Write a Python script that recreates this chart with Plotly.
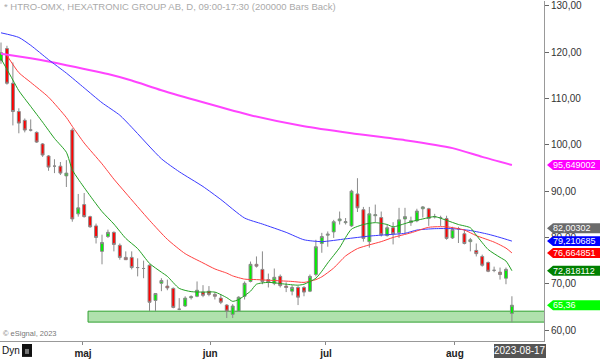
import plotly.graph_objects as go

# ---------------- data ----------------
opens = [118.2,120.8,113.3,107.2,105.3,103.2,102.7,100.2,97.6,95.4,95.4,93.3,103.2,85.1,87.1,84.5,82.5,77.0,80.2,81.1,
         78.3,75.7,75.7,73.5,73.3,74.0,66.4,70.1,69.5,69.0,64.5,65.2,67.0,67.3,68.2,68.4,67.7,66.9,65.4,63.4,
         64.1,67.3,70.5,74.2,73.1,70.9,70.1,71.6,69.5,68.4,69.2,69.2,68.4,72.0,78.7,80.5,81.2,83.6,83.2,82.5,
         89.4,86.0,79.1,84.7,84.3,80.4,82.1,81.0,84.0,83.2,83.6,86.2,86.2,84.5,84.3,84.1,79.9,81.9,80.8,79.1,
         77.2,75.9,74.6,72.9,72.5,71.2,63.6]
closes = [119.9,113.3,107.2,104.7,103.2,103.2,100.6,97.8,95.2,95.4,93.9,93.9,84.0,86.4,84.5,82.3,80.0,78.9,81.1,78.5,
          75.7,75.2,73.5,73.5,73.3,66.0,67.9,70.7,69.1,64.9,64.5,66.9,67.2,68.6,67.5,67.7,67.3,66.0,64.1,65.2,
          67.1,70.1,74.2,73.8,70.5,70.3,71.4,69.6,69.2,69.2,67.1,68.2,71.6,78.0,80.2,80.7,83.4,84.0,83.4,90.0,
          86.4,79.8,85.1,84.9,80.6,82.1,80.8,83.8,84.5,83.6,85.7,86.6,84.1,84.5,84.3,79.8,81.7,81.9,78.7,79.5,
          76.5,74.0,72.7,72.9,72.0,73.1,65.36]
highs = [122.1,121.4,117.8,107.9,105.7,105.5,102.9,100.4,97.8,96.9,96.3,96.7,103.6,89.4,89.6,84.7,83.0,80.6,81.7,81.3,
         78.7,77.0,77.0,75.5,75.0,74.2,67.9,71.2,70.9,69.2,66.9,67.3,67.5,70.5,69.7,69.5,68.2,67.7,65.6,65.6,
         67.3,70.5,74.8,75.9,77.0,72.2,73.3,72.0,70.3,69.7,69.5,69.5,72.0,79.5,81.0,81.3,83.8,85.6,84.2,90.3,
         92.8,86.6,86.6,87.1,85.6,82.8,83.3,86.4,86.4,84.5,86.2,86.8,86.4,85.1,84.7,84.7,82.3,82.3,81.7,79.9,
         78.7,76.3,74.8,73.7,73.5,73.5,67.3]
lows = [117.5,113.0,104.2,102.5,102.7,102.9,100.4,97.4,94.4,93.9,93.5,90.9,83.4,84.5,84.3,82.1,78.7,74.2,79.9,77.0,
        75.2,75.2,73.1,71.6,71.2,64.1,64.1,68.4,68.6,64.7,64.3,65.0,66.6,67.1,67.1,67.3,66.6,65.6,62.6,62.6,
        63.9,66.6,70.3,73.5,69.9,69.2,69.7,69.2,68.2,67.5,65.4,67.3,68.2,71.6,76.7,78.0,79.9,82.8,82.8,82.3,
        85.5,79.1,77.8,83.3,80.2,80.2,78.5,79.9,80.8,82.5,83.3,84.3,82.5,84.1,82.5,79.5,79.7,78.8,78.5,77.0,
        75.9,73.7,72.5,72.5,70.9,69.9,61.7]
bar_index = list(range(len(opens)))

# moving averages (bar index, value)
ma_green_idx = [0,2,3,5,7,9,11,12,13,15,17,19,21,23,25,27,28,30,32,34,36,38,39,40,42,43,45,48,50,51,53,54,55,57,58,59,
                61,63,65,66,68,69,71,73,75,77,79,80,82,84,85,86]
ma_green_val = [118.6,114.0,111.7,108.3,104.9,101.4,98.4,94.6,92.6,89.0,85.6,82.9,79.8,77.6,74.4,72.5,71.6,69.0,68.3,68.2,
                68.2,67.0,66.2,66.6,68.4,69.9,70.3,69.9,69.7,69.9,71.2,72.7,74.5,77.8,80.0,81.8,
                82.8,83.2,82.8,82.3,83.0,83.4,84.0,84.5,83.7,82.8,82.1,80.5,77.4,75.7,74.9,72.818112]
ma_red_idx = [1,3,5,8,11,12,14,17,19,21,25,28,31,34,36,38,39,41,43,46,49,51,53,54,56,58,60,62,64,66,69,72,75,78,80,83,85,86]
ma_red_val = [119.3,115.6,113.5,110.3,105.9,104.0,100.4,95.9,92.6,89.6,83.7,79.6,76.5,74.5,73.2,72.3,71.7,71.0,70.9,70.7,
              70.5,70.3,70.9,71.5,73.4,76.0,77.6,78.4,79.1,80.0,81.0,82.2,82.3,81.6,80.4,79.0,77.7,76.664851]
ma_blue_idx = [0,3,5,8,11,14,17,20,22,27,30,34,37,41,44,48,51,54,58,62,65,68,70,73,76,79,82,84,86]
ma_blue_val = [124.2,123.2,121.5,118.4,115.5,112.3,109.1,106.4,103.8,97.0,94.2,91.0,88.2,84.2,82.9,81.1,79.5,79.1,79.7,
               80.3,80.6,80.9,81.6,81.9,81.9,81.5,80.7,80.0,79.210685]
ma_mag_idx = [0,5,8,11,14,18,22,27,34,42,51,59,68,76,81,86]
ma_mag_val = [119.7,118.7,118.0,117.2,116.4,115.3,113.9,111.8,109.2,106.4,104.0,102.5,101.0,99.3,97.4,95.649002]

# support band
band_start = 14.65
band_low = 61.72
band_high = 64.08

# axis ticks
month_pos = [13.8, 35.2, 54.7, 76.4]
month_labels = ["maj", "jun", "jul", "aug"]
price_ticks = [60, 70, 80, 90, 100, 110, 120, 130]

# last-value labels
label_values = [95.649002, 82.00302, 79.210685, 76.664851, 72.818112, 65.36]
label_texts = ["95,649002", "82,00302", "79,210685", "76,664851", "72,818112", "65,36"]
label_colors = ["#ff00ff", "#6b6b6b", "#0000ff", "#ff0000", "#008000", "#00ff00"]

# ---------------- geometry ----------------
W, H = 600, 359
ML, MR, MT, MB = 0, 56, 0, 17
PW = W - ML - MR
PH = H - MT - MB
x_range = [-0.17, 91.4]
y_range = [57.64, 131.07]
units_per_px = (y_range[1] - y_range[0]) / PH

def px_x(px):
    return (px - ML) / PW

def px_y(py):
    return (H - MB - py) / PH

fig = go.Figure()

fig.add_trace(go.Candlestick(
    x=bar_index, open=opens, high=highs, low=lows, close=closes,
    increasing=dict(line=dict(color="#8a8a8a", width=1), fillcolor="#00f000"),
    decreasing=dict(line=dict(color="#8a8a8a", width=1), fillcolor="#ff0000"),
    whiskerwidth=0, showlegend=False, hoverinfo="skip",
))

for xs, ys, col, w in [
    (ma_mag_idx, ma_mag_val, "#ff44ff", 2),
    (ma_blue_idx, ma_blue_val, "#3a3aff", 1),
    (ma_red_idx, ma_red_val, "#ff4040", 1),
    (ma_green_idx, ma_green_val, "#22a022", 1),
]:
    fig.add_trace(go.Scatter(x=xs, y=ys, mode="lines", line=dict(color=col, width=w, shape="spline", smoothing=0.6),
                             showlegend=False, hoverinfo="skip"))

shapes = []
shapes.append(dict(type="rect", xref="x", yref="y", x0=band_start, x1=x_range[1] + 5, y0=band_low, y1=band_high,
                   fillcolor="rgba(150,215,145,0.75)", line=dict(color="#2fa02f", width=1), layer="below"))

annotations = []
half = 5 * units_per_px
tip = px_x(547)
shoulder = px_x(553)
right = px_x(601)
for v, t, c in zip(label_values, label_texts, label_colors):
    path = (f"M {tip},{v} L {shoulder},{v + half} L {right},{v + half} "
            f"L {right},{v - half} L {shoulder},{v - half} Z")
    shapes.append(dict(type="path", xref="paper", yref="y", path=path, fillcolor=c,
                       line=dict(width=0), layer="above"))
    annotations.append(dict(x=px_x(551), y=v, xref="paper", yref="y", text=t, showarrow=False,
                            xanchor="left", yanchor="middle", font=dict(family="Arial", size=9, color="white")))

# date box
shapes.append(dict(type="rect", xref="paper", yref="paper", x0=px_x(494), x1=px_x(546), y0=px_y(359), y1=px_y(345),
                   fillcolor="#555555", line=dict(width=0), layer="above"))
annotations.append(dict(x=px_x(520), y=px_y(352), xref="paper", yref="paper", text="2023-08-17", showarrow=False,
                        xanchor="center", yanchor="middle", font=dict(family="Arial", size=10, color="white")))
# Dyn + icon
annotations.append(dict(x=px_x(0), y=px_y(352), xref="paper", yref="paper", text="Dyn", showarrow=False,
                        xanchor="left", yanchor="middle", font=dict(family="Arial", size=10, color="#111")))
shapes.append(dict(type="rect", xref="paper", yref="paper", x0=px_x(22), x1=px_x(32), y0=px_y(358), y1=px_y(345),
                   fillcolor="#111111", line=dict(width=0), layer="above"))
shapes.append(dict(type="rect", xref="paper", yref="paper", x0=px_x(25), x1=px_x(29), y0=px_y(355), y1=px_y(350),
                   fillcolor="#777777", line=dict(width=0), layer="above"))
# title & copyright
annotations.append(dict(x=px_x(2), y=px_y(6), xref="paper", yref="paper",
                        text="* HTRO-OMX, HEXATRONIC GROUP AB, D, 09:00-17:30 (200000 Bars Back)",
                        showarrow=False, xanchor="left", yanchor="middle",
                        font=dict(family="Arial", size=9.5, color="#aaaaaa")))
annotations.append(dict(x=px_x(1), y=px_y(334), xref="paper", yref="paper", text="© eSignal, 2023",
                        showarrow=False, xanchor="left", yanchor="middle",
                        font=dict(family="Arial", size=7.5, color="#777777")))

fig.update_layout(
    width=W, height=H, autosize=False,
    margin=dict(l=ML, r=MR, t=MT, b=MB, pad=0),
    paper_bgcolor="white", plot_bgcolor="white",
    separators=",.",
    shapes=shapes, annotations=annotations,
    showlegend=False, boxgap=0.3,
    xaxis=dict(range=x_range, showgrid=False, zeroline=False, rangeslider=dict(visible=False),
               tickvals=month_pos, ticktext=[f"<b>{m}</b>" for m in month_labels],
               ticks="outside", ticklen=3, tickcolor="#888", showline=True, linecolor="#999", linewidth=1,
               ticklabeloverflow="allow",
               tickfont=dict(family="Arial", size=10, color="#222")),
    yaxis=dict(range=y_range, side="right", showgrid=False, zeroline=False,
               tickvals=price_ticks, tickformat=".2f", ticks="outside", ticklen=4, tickcolor="#666",
               showline=True, linecolor="#999", linewidth=1, ticklabeloverflow="allow",
               tickfont=dict(family="Arial", size=10, color="#333")),
)

fig.write_html("out.html", config={"displayModeBar": False},
               post_script="document.body.style.margin='0px';document.body.style.overflow='hidden';")
